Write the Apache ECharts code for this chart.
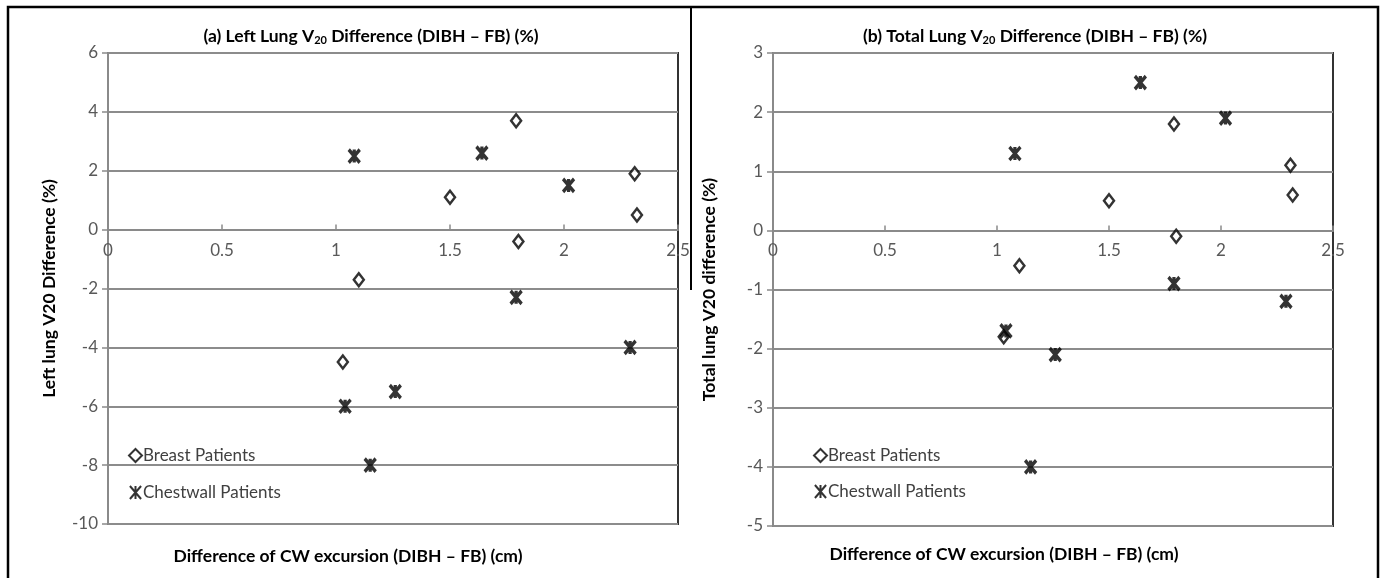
<!DOCTYPE html>
<html>
<head>
<meta charset="utf-8">
<script src="https://cdn.jsdelivr.net/npm/echarts@6/dist/echarts.min.js"></script>
<style>
html, body { margin: 0; padding: 0; background: #fff; }
#main { width: 1382px; height: 578px; }
</style>
</head>
<body>
<div id="main"></div>
<script>
// CW excursion difference (DIBH - FB), cm
var breastCw = [1.79, 1.50, 2.31, 2.32, 1.80, 1.10, 1.03];
var chestCw = [1.08, 1.64, 2.02, 1.79, 2.29, 1.26, 1.04, 1.15];
// (a) left lung V20 difference, %
var leftBreast = [3.7, 1.1, 1.9, 0.5, -0.4, -1.7, -4.5];
var leftChest = [2.5, 2.6, 1.5, -2.3, -4.0, -5.5, -6.0, -8.0];
// (b) total lung V20 difference, %
var totalBreast = [1.8, 0.5, 1.1, 0.6, -0.1, -0.6, -1.8];
var totalChest = [1.3, 2.5, 1.9, -0.9, -1.2, -2.1, -1.7, -4.0];

var myChart = echarts.init(document.getElementById('main'));

function pairs(xs, ys) {
    var arr = [];
    for (var i = 0; i < xs.length; i++) {
        arr.push([xs[i], ys[i]]);
    }
    return arr;
}

var font = 'Lato';
var starPath = 'path://M0,0 L12,14 M12,0 L0,14 M6,0 L6,14';

var titleSub = {
    b: { fontFamily: font, fontWeight: 'bold', fontSize: 17.5, color: '#000', lineHeight: 20 },
    s: { fontFamily: font, fontWeight: 'bold', fontSize: 11, color: '#000', lineHeight: 20, verticalAlign: 'bottom', padding: [7, 0, 0, 0] }
};

// the x axis crosses at y = 0, so it is pushed up from the bottom of the grid
function xAxis(idx, offset) {
    return {
        type: 'value', gridIndex: idx, min: 0, max: 2.5, interval: 0.5,
        position: 'bottom', offset: offset,
        axisLine: { onZero: false, lineStyle: { color: '#8a8a8a', width: 2 } },
        axisTick: { inside: true, length: 5, lineStyle: { color: '#8a8a8a', width: 1.5 } },
        axisLabel: { color: '#595959', fontSize: 17, fontFamily: font, margin: 12 },
        splitLine: { show: false }
    };
}

function yAxis(idx, min, max, interval, name, gap) {
    return {
        type: 'value', gridIndex: idx, min: min, max: max, interval: interval,
        name: name, nameLocation: 'middle', nameGap: gap,
        nameTextStyle: { fontFamily: font, fontWeight: 'bold', fontSize: 17.5, color: '#000' },
        axisLine: { show: true, lineStyle: { color: '#8a8a8a', width: 2 } },
        axisTick: { show: true, length: 6, lineStyle: { color: '#8a8a8a', width: 1.5 } },
        axisLabel: { color: '#595959', fontSize: 17, fontFamily: font, margin: 10 },
        splitLine: { show: true, lineStyle: { color: '#8c8c8c', width: 2 } }
    };
}

var breastStyle = { color: '#fff', borderColor: '#000', borderWidth: 2.5 };
var chestStyle = { color: '#000', borderColor: '#000', borderWidth: 3.5 };
var nameStyle = { fontFamily: font, fontWeight: 'bold', fontSize: 17.5, color: '#000' };

option = {
    backgroundColor: '#fff',
    animation: false,
    title: [
        { text: '{b|(a) Left Lung V}{s|20}{b| Difference (DIBH – FB) (%)}', left: 366, top: 21, textAlign: 'center',
          textStyle: { rich: titleSub } },
        { text: '{b|(b) Total Lung V}{s|20}{b| Difference (DIBH – FB) (%)}', left: 1030, top: 21, textAlign: 'center',
          textStyle: { rich: titleSub } },
        { text: 'Difference of CW excursion (DIBH – FB) (cm)', left: 343, top: 542, textAlign: 'center',
          textStyle: nameStyle },
        { text: 'Difference of CW excursion (DIBH – FB) (cm)', left: 999, top: 540, textAlign: 'center',
          textStyle: nameStyle }
    ],
    legend: [
        { orient: 'vertical', left: 123, top: 442, itemGap: 20, itemWidth: 13, itemHeight: 13,
          textStyle: { fontFamily: font, fontSize: 17, color: '#404040', padding: [0, 0, 0, -4] },
          data: ['Breast Patients', 'Chestwall Patients'] },
        { orient: 'vertical', left: 808, top: 442, itemGap: 19, itemWidth: 13, itemHeight: 13,
          textStyle: { fontFamily: font, fontSize: 17, color: '#404040', padding: [0, 0, 0, -4] },
          data: ['Breast Patients', 'Chestwall Patients'] }
    ],
    grid: [
        { left: 108, top: 53, width: 570, height: 471, show: true, borderColor: '#333', borderWidth: 2 },
        { left: 773, top: 53, width: 560, height: 473, show: true, borderColor: '#333', borderWidth: 2 }
    ],
    xAxis: [xAxis(0, -294.4), xAxis(1, -295.6)],
    yAxis: [
        yAxis(0, -10, 6, 2, 'Left lung V20 Difference (%)', 50),
        yAxis(1, -5, 3, 1, 'Total lung V20 difference (%)', 55)
    ],
    graphic: [
        { type: 'polyline', shape: { points: [[8, 578], [8, 7], [1378, 7], [1378, 578]] },
          style: { stroke: '#000', lineWidth: 2.5, fill: null } },
        { type: 'line', shape: { x1: 691, y1: 7, x2: 691, y2: 290 },
          style: { stroke: '#000', lineWidth: 2 } }
    ],
    series: [
        { name: 'Breast Patients', type: 'scatter', xAxisIndex: 0, yAxisIndex: 0,
          symbol: 'diamond', symbolSize: [10, 13], itemStyle: breastStyle, data: pairs(breastCw, leftBreast) },
        { name: 'Chestwall Patients', type: 'scatter', xAxisIndex: 0, yAxisIndex: 0,
          symbol: starPath, symbolSize: [11, 13], itemStyle: chestStyle, data: pairs(chestCw, leftChest) },
        { name: 'Breast Patients', type: 'scatter', xAxisIndex: 1, yAxisIndex: 1,
          symbol: 'diamond', symbolSize: [10, 13], itemStyle: breastStyle, data: pairs(breastCw, totalBreast) },
        { name: 'Chestwall Patients', type: 'scatter', xAxisIndex: 1, yAxisIndex: 1,
          symbol: starPath, symbolSize: [11, 13], itemStyle: chestStyle, data: pairs(chestCw, totalChest) }
    ]
};

myChart.setOption(option);
</script>
</body>
</html>
